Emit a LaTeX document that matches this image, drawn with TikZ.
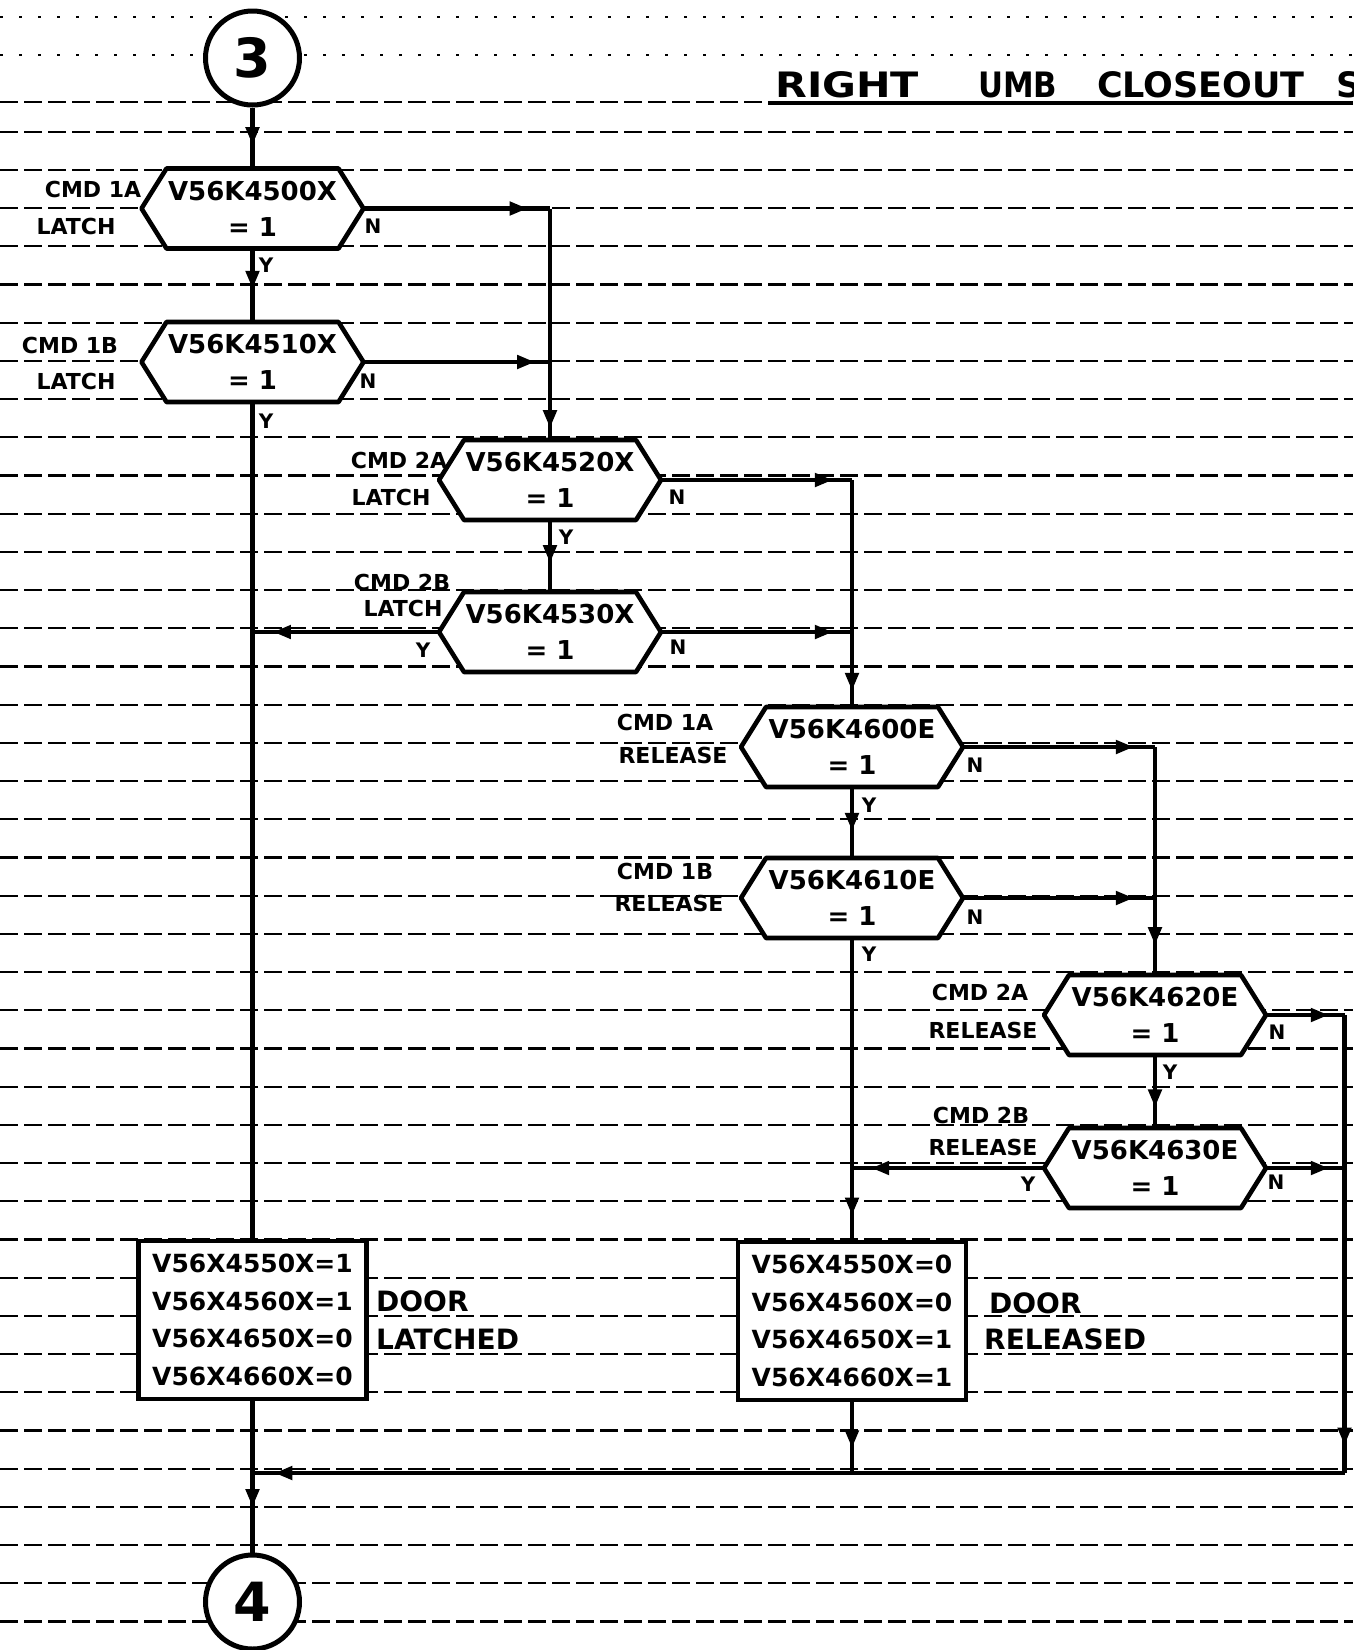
\documentclass[tikz,border=0pt]{standalone}
\usepackage{fontspec}
\usepackage{graphicx}
\setmainfont{DejaVu Sans}
\usetikzlibrary{arrows.meta,decorations.markings}
\tikzset{
 conn/.style={line width=4.6pt},
 arrowat/.style={decoration={markings,mark=at position #1 with {\arrow{Triangle[length=18pt,width=13pt]}}},postaction={decorate}},
 hexbox/.style={minimum width=222pt,minimum height=80pt,inner sep=0pt,align=center,font=\fontsize{26}{36}\selectfont\bfseries},
 hexline/.style={line width=4.6pt,fill=white,line join=round},
 lbl/.style={font=\fontsize{22}{24}\selectfont\bfseries,inner sep=0pt},
 yn/.style={font=\fontsize{20}{20}\selectfont\bfseries,inner sep=0pt},
 databox/.style={draw,line width=4.6pt,fill=white,minimum width=228pt,minimum height=158pt,inner sep=4pt,align=left,font=\fontsize{25}{37.5}\selectfont\bfseries},
 conncirc/.style={draw,circle,line width=5pt,minimum size=94pt,inner sep=0pt,fill=white,font=\fontsize{54}{54}\selectfont\bfseries},
 ruleline/.style={black,line width=2.2pt,dash pattern=on 18pt off 6pt},
 ruledot/.style={black,line width=2.2pt,dash pattern=on 3pt off 16pt},
 door/.style={font=\fontsize{28}{30}\selectfont\bfseries,inner sep=0pt,anchor=west},
 titleword/.style={font=\fontsize{35}{36}\selectfont\bfseries,inner sep=0pt,anchor=base west},
}
\newcommand\hexnode[3]{%
 \draw[hexline,shift={(#2)}] (-111,0) -- (-86,-40) -- (86,-40) -- (111,0) -- (86,40) -- (-86,40) -- cycle;
 \node[hexbox] (#1) at (#2) {#3};}
\begin{document}
\begin{tikzpicture}[x=1pt,y=-1pt]
\useasboundingbox (0,0) rectangle (1353,1650);
% ruled paper
\foreach \k in {0,1} \draw[ruledot] (0,17+38.2*\k) -- (1353,17+38.2*\k);
\draw[ruleline] (0,102) -- (768,102);
\foreach \k in {3,...,42} \draw[ruleline] (0,17+38.2*\k) -- (1353,17+38.2*\k);
% title
\node[titleword] (t1) at (775,97) {\scalebox{1.18}[1]{RIGHT}};
\node[titleword] (t2) at (978,97) {\scalebox{0.88}[1]{UMB}};
\node[titleword] (t3) at (1097,97) {CLOSEOUT};
\node[titleword] (t4) at (1336,97) {S};
\draw[line width=3.5pt] (768,103) -- (1353,103);
% connectors circles
\node[conncirc] (c3) at (252.5,58) {3};
\node[conncirc] (c4) at (252.5,1602) {4};
% decisions
\hexnode{h1}{252.5,208.5}{V56K4500X\\= 1}
\hexnode{h2}{252.5,362}{V56K4510X\\= 1}
\hexnode{h3}{550,480}{V56K4520X\\= 1}
\hexnode{h4}{550,632}{V56K4530X\\= 1}
\hexnode{h5}{852,747}{V56K4600E\\= 1}
\hexnode{h6}{852,898}{V56K4610E\\= 1}
\hexnode{h7}{1155,1015}{V56K4620E\\= 1}
\hexnode{h8}{1155,1168}{V56K4630E\\= 1}
% result boxes
\node[databox] (b1) at (252.5,1320) {V56X4550X=1\\V56X4560X=1\\V56X4650X=0\\V56X4660X=0};
\node[databox] (b2) at (852,1321) {V56X4550X=0\\V56X4560X=0\\V56X4650X=1\\V56X4660X=1};
\node[door] (d1) at (376,1301) {DOOR};
\node[door] (d2) at (376,1339) {LATCHED};
\node[door] (d3) at (989,1303) {DOOR};
\node[door] (d4) at (984,1339) {RELEASED};
% labels
\node[lbl] (l1a) at (93,189) {CMD 1A};
\node[lbl] (l1b) at (76,226) {LATCH};
\node[yn] (n1) at (373,226) {N};
\node[yn] (y1) at (266,265) {Y};
\node[lbl] (l2a) at (70,345) {CMD 1B};
\node[lbl] (l2b) at (76,381) {LATCH};
\node[yn] (n2) at (368,381) {N};
\node[yn] (y2) at (266,421) {Y};
\node[lbl] (l3a) at (399,460) {CMD 2A};
\node[lbl] (l3b) at (391,497) {LATCH};
\node[yn] (n3) at (677,497) {N};
\node[yn] (y3) at (566,537) {Y};
\node[lbl] (l4a) at (402,582) {CMD 2B};
\node[lbl] (l4b) at (403,608) {LATCH};
\node[yn] (y4) at (423,650) {Y};
\node[yn] (n4) at (678,647) {N};
\node[lbl] (l5a) at (665,722) {CMD 1A};
\node[lbl] (l5b) at (673,755) {RELEASE};
\node[yn] (n5) at (975,765) {N};
\node[yn] (y5) at (869,805) {Y};
\node[lbl] (l6a) at (665,871) {CMD 1B};
\node[lbl] (l6b) at (669,903) {RELEASE};
\node[yn] (n6) at (975,917) {N};
\node[yn] (y6) at (869,954) {Y};
\node[lbl] (l7a) at (980,992) {CMD 2A};
\node[lbl] (l7b) at (983,1030) {RELEASE};
\node[yn] (n7) at (1277,1032) {N};
\node[yn] (y7) at (1170,1072) {Y};
\node[lbl] (l8a) at (981,1115) {CMD 2B};
\node[lbl] (l8b) at (983,1147) {RELEASE};
\node[yn] (y8) at (1028,1184) {Y};
\node[yn] (n8) at (1276,1182) {N};
% junctions
\coordinate (j1) at (h3.north |- h1.east);
\coordinate (j2) at (h3.north |- h2.east);
\coordinate (j3) at (h5.north |- h3.east);
\coordinate (j4) at (h5.north |- h4.east);
\coordinate (j5) at (h2.south |- h4.west);
\coordinate (j6) at (h7.north |- h5.east);
\coordinate (j7) at (h7.north |- h6.east);
\coordinate (j8) at (1344.5,1015);
\coordinate (j9) at (1344.5,1168);
\coordinate (j10) at (h6.south |- h8.west);
\coordinate (j11) at (1344.5,1473);
\coordinate (j12) at (852,1473);
\coordinate (j13) at (252.5,1473);
% connectors
\draw[conn,arrowat=0.62] (c3.south) -- (h1.north);
\draw[conn,arrowat=0.55] (h1.south) -- (h2.north);
\draw[conn] (h2.south) -- (b1.north);
\draw[conn,arrowat=0.88] (h1.east) -- (j1);
\draw[conn,arrowat=0.95] (j1) -- (h3.north);
\draw[conn,arrowat=0.92] (h2.east) -- (j2);
\draw[conn,arrowat=0.6] (h3.south) -- (h4.north);
\draw[conn,arrowat=0.9] (h3.east) -- (j3);
\draw[conn,arrowat=0.93] (j3) -- (h5.north);
\draw[conn,arrowat=0.9] (h4.east) -- (j4);
\draw[conn,arrowat=0.89] (h4.west) -- (j5);
\draw[conn,arrowat=0.62] (h5.south) -- (h6.north);
\draw[conn,arrowat=0.89] (h5.east) -- (j6);
\draw[conn,arrowat=0.87] (j6) -- (h7.north);
\draw[conn,arrowat=0.89] (h6.east) -- (j7);
\draw[conn,arrowat=0.92] (h6.south) -- (b2.north);
\draw[conn,arrowat=0.72] (h7.south) -- (h8.north);
\draw[conn,arrowat=0.8] (h7.east) -- (j8);
\draw[conn,arrowat=0.8] (h8.east) -- (j9);
\draw[conn,arrowat=0.9] (h8.west) -- (j10);
\draw[conn,arrowat=0.94] (j8) -- (j11);
\draw[conn,arrowat=0.65] (b2.south) -- (j12);
\draw[conn,arrowat=0.98] (j11) -- (j13);
\draw[conn,arrowat=0.7] (b1.south) -- (c4.north);
\end{tikzpicture}
\end{document}
